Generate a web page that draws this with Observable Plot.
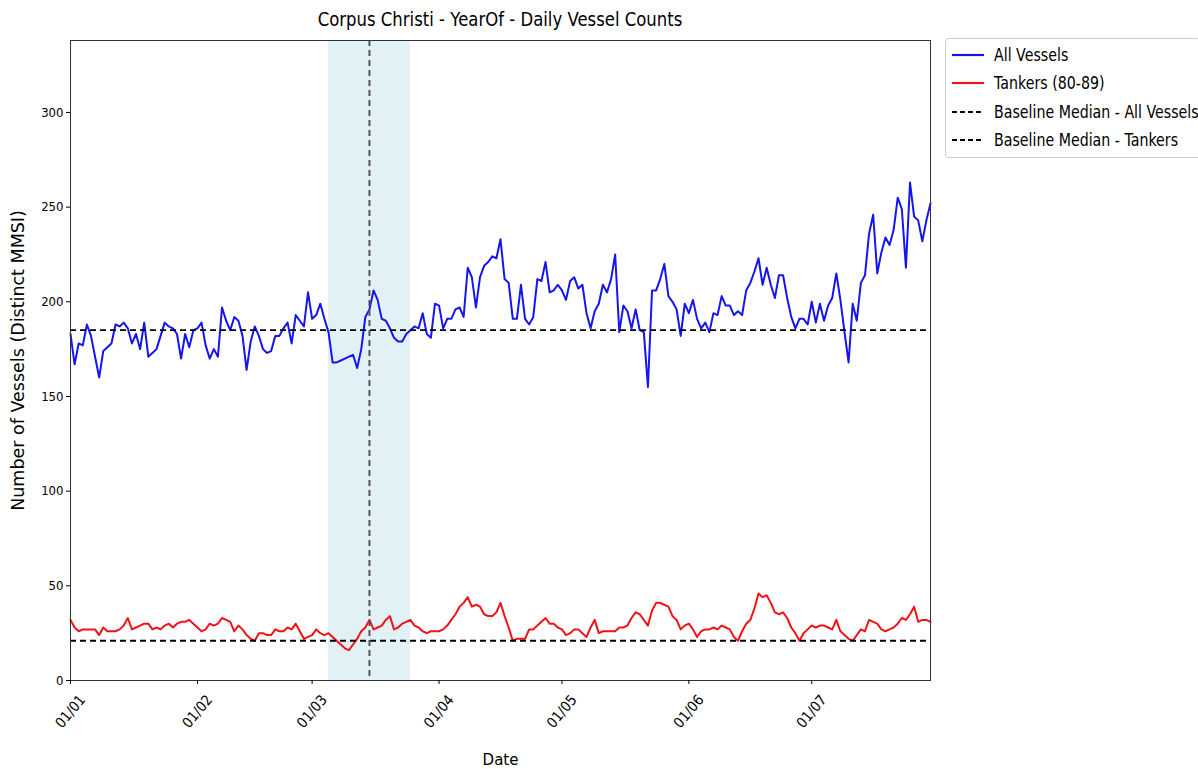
<!DOCTYPE html>
<html><head><meta charset="utf-8">
<script src="https://cdn.jsdelivr.net/npm/d3@7"></script>
<script src="https://cdn.jsdelivr.net/npm/@observablehq/plot@0.6"></script>
<style>
body{margin:0;background:#fff;}
#wrap{position:relative;width:1198px;height:769px;font-family:"DejaVu Sans",sans-serif;color:#000;}
#chart{position:absolute;left:0;top:0;}
#title{position:absolute;left:70px;width:860px;top:8px;text-align:center;font-size:16.5px;transform:scaleY(1.2);transform-origin:center top;}
#legend{position:absolute;left:945px;top:38px;width:255px;height:120px;border:1px solid #d0d0d0;border-radius:3px;background:#fff;box-sizing:border-box;}
.row{position:absolute;left:0;height:22px;display:flex;align-items:center;font-size:14.2px;white-space:nowrap;}
.row span{display:inline-block;transform:scaleY(1.25);}
.row svg{margin-left:5px;margin-right:9px;}
</style></head>
<body>
<div id="wrap">
  <div id="chart"></div>
  <div id="title"></div>
  <div id="legend"></div>
</div>
<script>
const titleText = "Corpus Christi - YearOf - Daily Vessel Counts";
const startDate = "2023-01-01";
const allVessels = [
183,167,178,177,188,182,171,160,174,176,178,188,187,189,186,178,183,175,189,171,
173,175,182,189,187,186,183,170,183,176,185,186,189,177,170,175,171,197,190,185,
192,190,182,164,179,187,182,175,173,174,182,182,186,189,178,193,190,187,205,191,
193,199,191,184,168,168,169,170,171,172,165,175,192,196,206,201,191,190,186,181,
179,179,183,185,187,186,194,183,181,199,198,186,191,191,196,197,192,218,213,197,
213,219,221,224,223,233,212,210,191,191,209,191,188,192,212,211,221,205,206,209,
206,201,211,213,207,209,194,186,195,199,209,205,212,225,184,198,195,186,196,185,
184,155,206,206,212,220,203,200,196,182,199,194,201,191,186,189,184,194,193,203,
198,198,193,195,193,206,210,216,223,209,218,209,202,214,214,202,192,186,191,191,
188,200,189,199,190,198,202,215,201,184,168,199,190,210,214,236,246,215,226,234,
230,238,255,249,218,263,245,243,232,243,252
];
const tankers = [
32,28,26,27,27,27,27,24,28,26,26,26,27,29,33,27,28,29,30,30,
27,28,27,29,30,28,30,31,31,32,30,28,26,27,30,29,30,33,32,31,
26,29,27,24,22,21,25,25,24,24,27,26,26,28,27,30,26,22,23,24,
27,25,24,25,23,21,19,17,16,19,22,26,28,32,27,28,29,32,34,27,
28,30,31,32,29,28,26,25,26,26,26,27,29,32,35,39,41,44,39,40,
39,35,34,34,36,41,34,28,21,22,22,22,27,27,29,31,33,30,30,28,
27,24,25,27,27,25,23,28,32,25,26,26,26,26,28,28,29,33,36,35,
32,29,37,41,41,40,39,34,32,27,29,30,27,23,26,27,27,28,27,29,
28,27,23,21,26,30,32,38,46,44,45,41,36,35,36,33,28,25,21,25,
27,29,28,29,29,28,27,32,26,24,22,21,24,27,26,32,31,30,27,26,
27,28,30,33,32,35,39,31,32,32,31
];
const baselineAll = 185;
const baselineTankers = 21;
const eventDate = "2023-03-15";
const windowStart = "2023-03-05";
const windowEnd = "2023-03-25";
const yTicks = [0, 50, 100, 150, 200, 250, 300];
const legendLabels = ["All Vessels", "Tankers (80-89)", "Baseline Median - All Vessels", "Baseline Median - Tankers"];

const tickFont = '"DejaVu Sans Condensed","DejaVu Sans",sans-serif';
const labelFont = '"DejaVu Sans",sans-serif';
const start = new Date(startDate + "T00:00:00Z");
const rows = allVessels.map((v, i) => ({date: d3.utcDay.offset(start, i), all: v, tank: tankers[i]}));
const end = rows[rows.length - 1].date;
const monthTicks = d3.utcMonth.range(start, end);
const fmt = d3.utcFormat("%d/%m");

const chart = Plot.plot({
  width: 1198, height: 769,
  marginTop: 40, marginBottom: 89, marginLeft: 70, marginRight: 268,
  style: {fontFamily: tickFont, fontSize: "13px", background: "transparent", color: "#000"},
  x: {type: "utc", domain: [start, end]},
  y: {domain: [0, 338]},
  marks: [
    Plot.rect([{x1: new Date(windowStart + "T00:00:00Z"), x2: new Date(windowEnd + "T00:00:00Z")}], {x1: "x1", x2: "x2", fill: "#add8e6", fillOpacity: 0.35}),
    Plot.line(rows, {x: "date", y: "all", stroke: "#1515f0", strokeWidth: 2}),
    Plot.line(rows, {x: "date", y: "tank", stroke: "#ee1418", strokeWidth: 2}),
    Plot.ruleY([baselineAll], {stroke: "#000", strokeWidth: 1.8, strokeDasharray: "6,4"}),
    Plot.ruleY([baselineTankers], {stroke: "#000", strokeWidth: 1.8, strokeDasharray: "6,4"}),
    Plot.ruleX([new Date(eventDate + "T00:00:00Z")], {stroke: "#555", strokeWidth: 2, strokeDasharray: "6,4"}),
    Plot.frame({stroke: "#333", strokeWidth: 1}),
    Plot.axisY({ticks: yTicks, tickSize: 4, tickPadding: 3, label: null, fontSize: 13}),
    Plot.axisX({ticks: monthTicks, tickFormat: () => "", tickSize: 4, label: null}),
    Plot.text(monthTicks, {x: d => d, text: d => fmt(d), frameAnchor: "bottom", lineAnchor: "middle", textAnchor: "middle", rotate: -50, dy: 31, fontSize: 14.5}),
    Plot.text(["Number of Vessels (Distinct MMSI)"], {frameAnchor: "left", textAnchor: "middle", rotate: -90, dx: -52, fontSize: 17.5, fontFamily: labelFont}),
    Plot.text(["Date"], {frameAnchor: "bottom", lineAnchor: "middle", dy: 80, fontSize: 15, fontFamily: labelFont})
  ]
});
document.getElementById("chart").appendChild(chart);
document.getElementById("title").textContent = titleText;

const legend = document.getElementById("legend");
const styles = [
  {stroke: "#1515f0", dash: null},
  {stroke: "#ee1418", dash: null},
  {stroke: "#000", dash: "5,3"},
  {stroke: "#000", dash: "5,3"}
];
const rowTops = [5, 33, 62, 90];
legendLabels.forEach((lab, i) => {
  const r = document.createElement("div");
  r.className = "row";
  r.style.top = rowTops[i] + "px";
  const s = styles[i];
  r.innerHTML = `<svg width="34" height="10"><line x1="1" y1="5" x2="33" y2="5" stroke="${s.stroke}" stroke-width="2.2" ${s.dash ? `stroke-dasharray="${s.dash}"` : ""}/></svg><span>${lab}</span>`;
  legend.appendChild(r);
});
</script>
</body></html>
